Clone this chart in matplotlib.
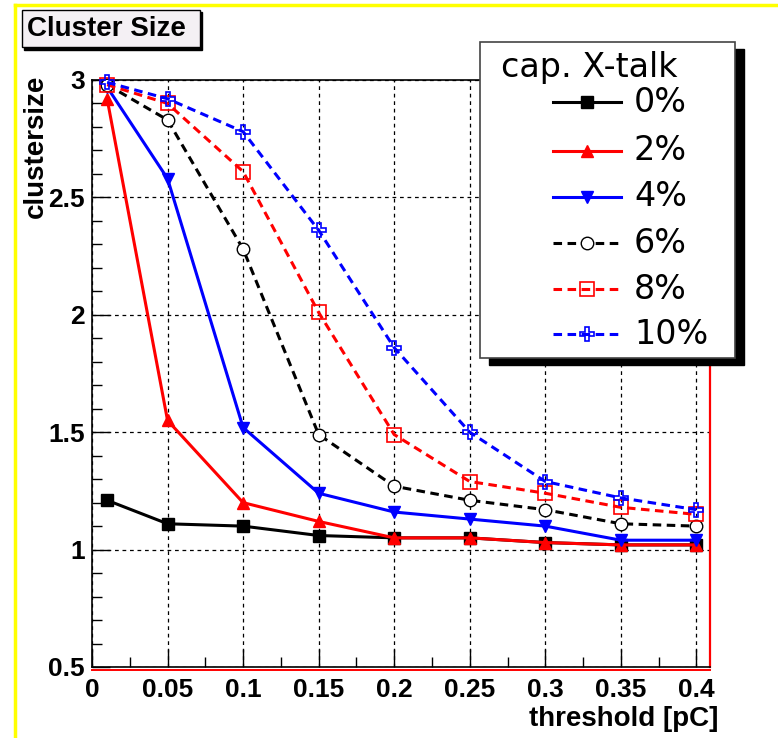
import matplotlib
matplotlib.use("Agg")
import matplotlib.pyplot as plt
from matplotlib.lines import Line2D
from matplotlib.patches import Rectangle
from matplotlib.ticker import MultipleLocator, FixedLocator

# data
threshold = [0.01, 0.05, 0.1, 0.15, 0.2, 0.25, 0.3, 0.35, 0.4]
xtalk_labels = ["0%", "2%", "4%", "6%", "8%", "10%"]
size_0 = [1.21, 1.11, 1.10, 1.06, 1.05, 1.05, 1.03, 1.02, 1.02]
size_2 = [2.92, 1.55, 1.20, 1.12, 1.05, 1.05, 1.03, 1.02, 1.02]
size_4 = [2.97, 2.58, 1.52, 1.24, 1.16, 1.13, 1.10, 1.04, 1.04]
size_6 = [2.98, 2.83, 2.28, 1.49, 1.27, 1.21, 1.17, 1.11, 1.10]
size_8 = [2.98, 2.90, 2.61, 2.01, 1.49, 1.29, 1.24, 1.18, 1.15]
size_10 = [2.99, 2.92, 2.78, 2.36, 1.86, 1.50, 1.29, 1.22, 1.17]
all_sizes = [size_0, size_2, size_4, size_6, size_8, size_10]
xticks = [0, 0.05, 0.1, 0.15, 0.2, 0.25, 0.3, 0.35, 0.4]
xtick_labels = ["0", "0.05", "0.1", "0.15", "0.2", "0.25", "0.3", "0.35", "0.4"]
yticks = [0.5, 1, 1.5, 2, 2.5, 3]
ytick_labels = ["0.5", "1", "1.5", "2", "2.5", "3"]

W, H = 778, 738
def fx(px):
    return px / W
def fy(py):
    return 1 - py / H

dash = (0, (2.8, 1.8))
styles = [
    dict(color="black", ls="-", marker="s", mfc="black", ms=8.5),
    dict(color="red", ls="-", marker="^", mfc="red", ms=9),
    dict(color="blue", ls="-", marker="v", mfc="blue", ms=9),
    dict(color="black", ls=dash, marker="o", mfc="white", ms=9, mew=1),
    dict(color="red", ls=dash, marker="s", mfc="none", ms=10, mew=1.2),
    dict(color="blue", ls=dash, marker="P", mfc="none", ms=10, mew=1.2),
]

bold = dict(family=["Liberation Sans", "DejaVu Sans"], weight="bold")

fig = plt.figure(figsize=(W / 100, H / 100), dpi=100)
ax = fig.add_axes([fx(92), fy(667), fx(710) - fx(92), fy(80) - fy(667)])

for ys, st in zip(all_sizes, styles):
    ax.plot(threshold, ys, lw=2.2, clip_on=False, zorder=3, **st)

ax.set_xlim(0, 0.409)
ax.set_ylim(0.5, 3)
ax.xaxis.set_major_locator(FixedLocator(xticks))
ax.set_xticklabels(xtick_labels, fontsize=19, **bold)
ax.yaxis.set_major_locator(FixedLocator(yticks))
ax.set_yticklabels(ytick_labels, fontsize=19, **bold)
ax.xaxis.set_minor_locator(MultipleLocator(0.025))
ax.yaxis.set_minor_locator(MultipleLocator(0.1))
ax.tick_params(which="major", direction="in", length=13, width=1, pad=8)
ax.tick_params(which="minor", direction="in", length=7, width=1)
ax.tick_params(axis="y", which="major", pad=5)
ax.grid(True, which="major", color="black", ls=(0, (3, 3)), lw=0.9)
ax.set_axisbelow(True)
ax.spines["right"].set_color("red")
ax.spines["right"].set_linewidth(1.6)
for side in ["top", "left", "bottom"]:
    ax.spines[side].set_linewidth(1.2)

# red rim under the bottom axis
fig.add_artist(Line2D([fx(92), fx(710)], [fy(669.5), fy(669.5)], color="red", lw=1.4))

fig.text(fx(718), fy(726), "threshold [pC]", ha="right", va="baseline", fontsize=20, **bold)
fig.text(fx(36), fy(146), "clustersize", rotation=90, ha="center", va="center", fontsize=20, **bold)

# yellow frame edges
fig.add_artist(Line2D([fx(15), fx(15)], [fy(5), 0], color="#ffff00", lw=2.5))
fig.add_artist(Line2D([fx(15), 1], [fy(5), fy(5)], color="#ffff00", lw=2.5))

# title box
fig.add_artist(Rectangle((fx(24), fy(50)), fx(202) - fx(24), fy(12) - fy(50),
                         transform=fig.transFigure, color="black", zorder=5))
fig.add_artist(Rectangle((fx(22), fy(47)), fx(200) - fx(22), fy(10) - fy(47),
                         transform=fig.transFigure, facecolor="#f4f0f4", edgecolor="black",
                         lw=1, zorder=6))
fig.text(fx(27), fy(29), "Cluster Size", ha="left", va="center", fontsize=20, zorder=7, **bold)

# legend
fig.add_artist(Rectangle((fx(489), fy(365)), fx(744) - fx(489), fy(49) - fy(365),
                         transform=fig.transFigure, color="black", zorder=8))
fig.add_artist(Rectangle((fx(480), fy(358)), fx(735) - fx(480), fy(42) - fy(358),
                         transform=fig.transFigure, facecolor="white", edgecolor="#444444",
                         lw=1.2, zorder=9))
leg_font = ["DejaVu Sans"]
fig.text(fx(501), fy(77), "cap. X-talk", ha="left", va="baseline", fontsize=24,
         family=leg_font, zorder=10)
entry_y = [102, 151, 197, 243, 289, 334]
for lab, st, py in zip(xtalk_labels, styles, entry_y):
    fig.add_artist(Line2D([fx(553), fx(621)], [fy(py), fy(py)], lw=2.2, zorder=10,
                          markevery=[], **st))
    fig.add_artist(Line2D([fx(587)], [fy(py)], lw=0, zorder=11,
                          **{k: v for k, v in st.items() if k != "ls"}))
    fig.text(fx(634), fy(py), lab, ha="left", va="center", fontsize=24,
             family=leg_font, zorder=10)

fig.savefig("out.png", dpi=100)
